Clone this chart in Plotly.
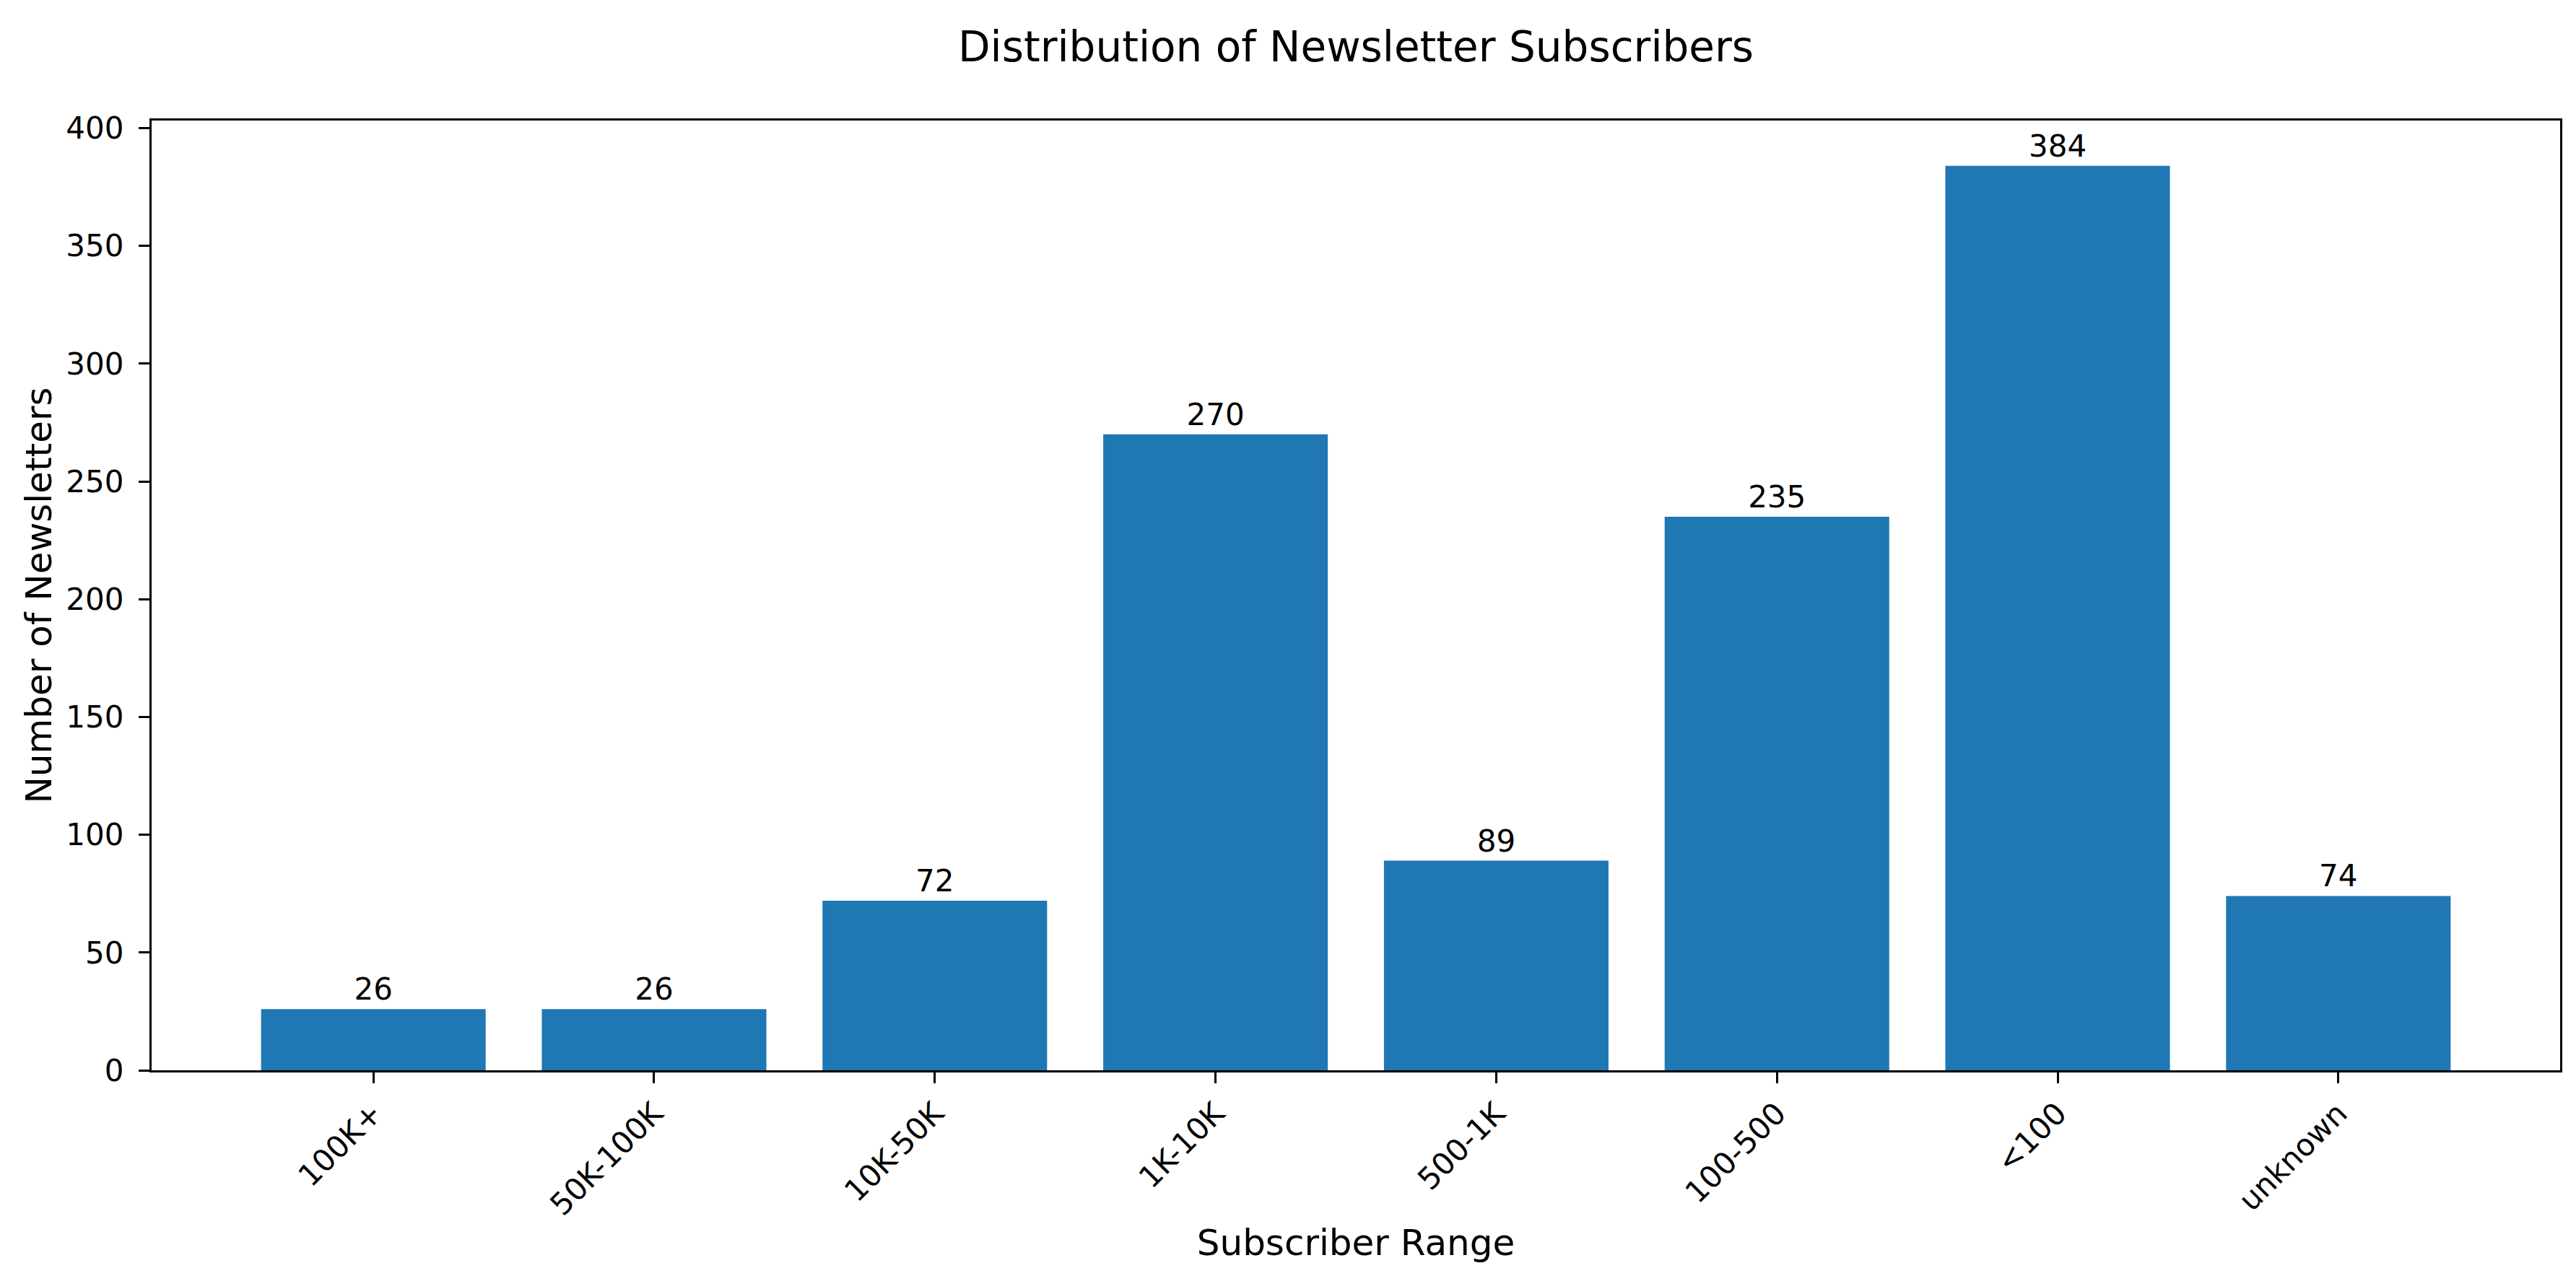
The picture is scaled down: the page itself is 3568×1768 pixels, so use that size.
import plotly.graph_objects as go

subscriber_ranges = ["100K+", "50K-100K", "10K-50K", "1K-10K", "500-1K", "100-500", "<100", "unknown"]
newsletter_counts = [26, 26, 72, 270, 89, 235, 384, 74]

BLUE = "#1f77b4"
FONT = "DejaVu Sans"

fig = go.Figure(
    go.Bar(
        x=list(range(len(subscriber_ranges))),
        y=newsletter_counts,
        width=0.8,
        marker=dict(color=BLUE, line=dict(width=0)),
        text=newsletter_counts,
        textposition="outside",
        textfont=dict(family=FONT, size=42, color="black"),
        cliponaxis=False,
        constraintext="none",
    )
)

axis_common = dict(
    showline=True,
    linecolor="black",
    linewidth=3.3,
    mirror=True,
    ticks="outside",
    ticklen=15,
    tickwidth=3.3,
    tickcolor="black",
    showgrid=False,
    zeroline=False,
    tickfont=dict(family=FONT, size=42, color="black"),
)

fig.update_layout(
    width=3568,
    height=1768,
    margin=dict(l=202, r=30, t=159, b=293),
    paper_bgcolor="white",
    plot_bgcolor="white",
    showlegend=False,
    title=dict(
        text="Distribution of Newsletter Subscribers",
        font=dict(family=FONT, size=58, color="black"),
        x=0.5,
        xref="paper",
        xanchor="center",
        y=1 - 57 / 1768,
        yref="container",
        yanchor="middle",
    ),
    xaxis=dict(
        axis_common,
        range=[-0.79, 7.79],
        tickmode="array",
        tickvals=list(range(len(subscriber_ranges))),
        ticktext=subscriber_ranges,
        tickangle=-45,
        title=dict(text="Subscriber Range", font=dict(family=FONT, size=50, color="black"), standoff=12),
        automargin=False,
    ),
    yaxis=dict(
        axis_common,
        range=[0, 403.2],
        tickmode="array",
        tickvals=[0, 50, 100, 150, 200, 250, 300, 350, 400],
        ticklabelstandoff=12,
        title=dict(text="Number of Newsletters", font=dict(family=FONT, size=50, color="black"), standoff=4),
        automargin=False,
    ),
)

fig.write_html("out.html")
